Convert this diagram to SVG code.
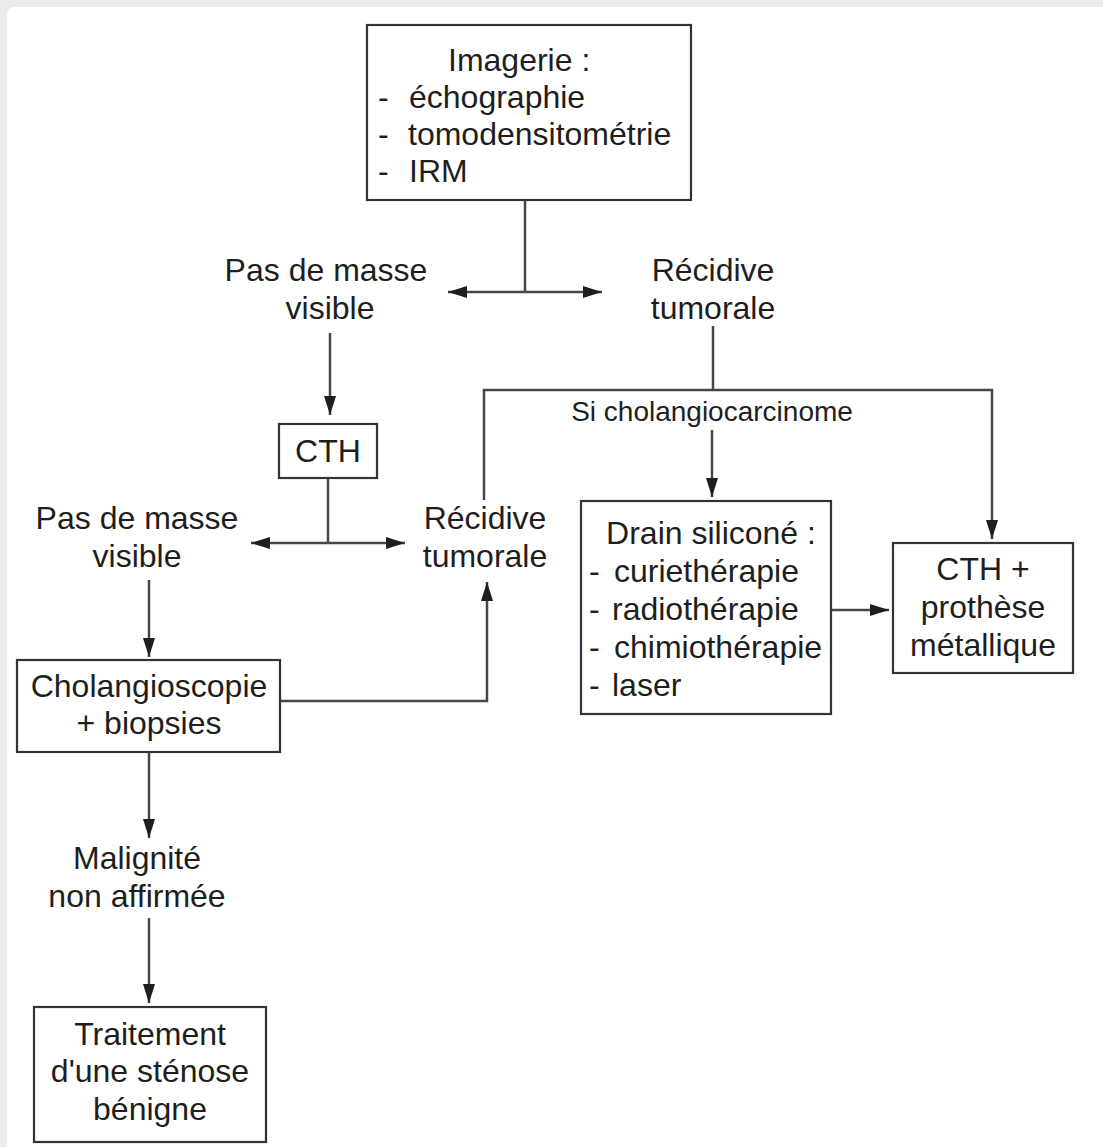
<svg xmlns="http://www.w3.org/2000/svg" width="1103" height="1147" viewBox="0 0 1103 1147">
  <style>
    .box { fill: #ffffff; stroke: #333333; stroke-width: 2.2; }
    .t { font-family: "Liberation Sans", Arial, sans-serif; font-size: 32px; fill: #1e1e1e; }
    .c { text-anchor: middle; }
    .small { font-size: 28px; }
    .conn { fill: none; stroke: #474747; stroke-width: 2.5; }
  </style>
  <defs>
    <marker id="arr" markerUnits="userSpaceOnUse" markerWidth="20" markerHeight="14" refX="19" refY="6" orient="auto" viewBox="0 0 20 12">
      <path d="M0,0 L19,6 L0,12 z" fill="#1e1e1e"/>
    </marker>
  </defs>

  <rect x="0" y="0" width="1103" height="1147" fill="#ececec"/>
  <rect x="7" y="7" width="1110" height="1160" rx="7" fill="#ffffff"/>

  <g id="connectors">
    <path class="conn" d="M525,200 V292"/>
    <path class="conn" d="M525,292 H448" marker-end="url(#arr)"/>
    <path class="conn" d="M525,292 H602" marker-end="url(#arr)"/>
    <path class="conn" d="M330,333 V415" marker-end="url(#arr)"/>
    <path class="conn" d="M328,478 V543"/>
    <path class="conn" d="M328,543 H251" marker-end="url(#arr)"/>
    <path class="conn" d="M328,543 H405" marker-end="url(#arr)"/>
    <path class="conn" d="M149,580 V657" marker-end="url(#arr)"/>
    <path class="conn" d="M280,701 H487 V582" marker-end="url(#arr)"/>
    <path class="conn" d="M149,752 V838" marker-end="url(#arr)"/>
    <path class="conn" d="M149,918 V1003" marker-end="url(#arr)"/>
    <path class="conn" d="M713,326 V390"/>
    <path class="conn" d="M484,500 V390 H992 V539" marker-end="url(#arr)"/>
    <path class="conn" d="M712,430 V497" marker-end="url(#arr)"/>
    <path class="conn" d="M831,610 H889" marker-end="url(#arr)"/>
  </g>

  <g id="imagerie">
    <rect class="box" x="367" y="25" width="324" height="175"/>
    <text class="t" x="448" y="71">Imagerie :</text>
    <text class="t" x="378" y="108">-</text>
    <text class="t" x="409" y="108">échographie</text>
    <text class="t" x="378" y="145">-</text>
    <text class="t" x="408" y="145">tomodensitométrie</text>
    <text class="t" x="378" y="182">-</text>
    <text class="t" x="409" y="182">IRM</text>
  </g>

  <g id="pas-masse-1">
    <text class="t c" x="326" y="281">Pas de masse</text>
    <text class="t c" x="330" y="319">visible</text>
  </g>

  <g id="recidive-1">
    <text class="t c" x="713" y="281">Récidive</text>
    <text class="t c" x="713" y="319">tumorale</text>
  </g>

  <g id="cth">
    <rect class="box" x="279" y="424" width="98" height="54"/>
    <text class="t c" x="328" y="462">CTH</text>
  </g>

  <g id="si-cholangiocarcinome">
    <text class="t c small" x="712" y="421">Si cholangiocarcinome</text>
  </g>

  <g id="pas-masse-2">
    <text class="t c" x="137" y="529">Pas de masse</text>
    <text class="t c" x="137" y="567">visible</text>
  </g>

  <g id="recidive-2">
    <text class="t c" x="485" y="529">Récidive</text>
    <text class="t c" x="485" y="567">tumorale</text>
  </g>

  <g id="drain">
    <rect class="box" x="581" y="501" width="250" height="213"/>
    <text class="t c" x="711" y="544">Drain siliconé :</text>
    <text class="t" x="589" y="582">-</text>
    <text class="t" x="614" y="582">curiethérapie</text>
    <text class="t" x="589" y="620">-</text>
    <text class="t" x="612" y="620">radiothérapie</text>
    <text class="t" x="589" y="658">-</text>
    <text class="t" x="614" y="658">chimiothérapie</text>
    <text class="t" x="589" y="696">-</text>
    <text class="t" x="612" y="696">laser</text>
  </g>

  <g id="cth-prothese">
    <rect class="box" x="893" y="543" width="180" height="130"/>
    <text class="t c" x="983" y="580">CTH +</text>
    <text class="t c" x="983" y="618">prothèse</text>
    <text class="t c" x="983" y="656">métallique</text>
  </g>

  <g id="cholangioscopie">
    <rect class="box" x="17" y="660" width="263" height="92"/>
    <text class="t c" x="149" y="697">Cholangioscopie</text>
    <text class="t c" x="149" y="734">+ biopsies</text>
  </g>

  <g id="malignite">
    <text class="t c" x="137" y="869">Malignité</text>
    <text class="t c" x="137" y="907">non affirmée</text>
  </g>

  <g id="traitement">
    <rect class="box" x="34" y="1007" width="232" height="135"/>
    <text class="t c" x="150" y="1045">Traitement</text>
    <text class="t c" x="150" y="1082">d'une sténose</text>
    <text class="t c" x="150" y="1120">bénigne</text>
  </g>
</svg>
